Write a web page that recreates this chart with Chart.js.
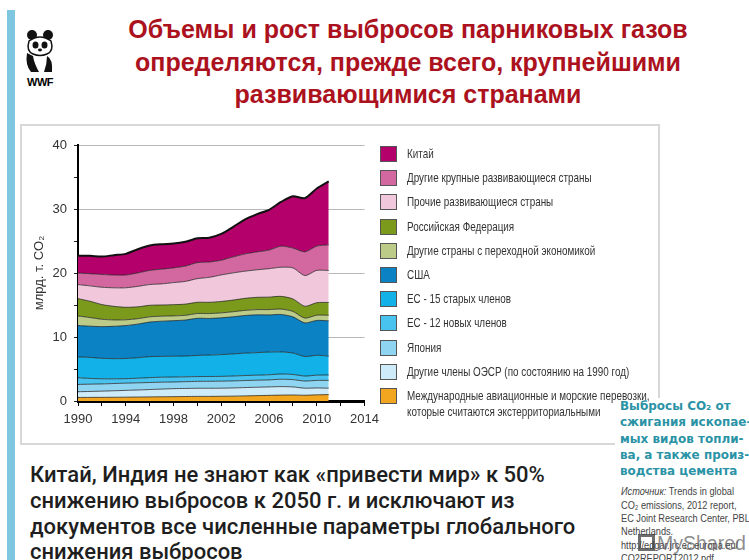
<!DOCTYPE html>
<html>
<head>
<meta charset="utf-8">
<script src="https://cdn.jsdelivr.net/npm/chart.js@4.4.0/dist/chart.umd.min.js"></script>
<style>
  body { margin:0; width:749px; height:560px; background:#fff; position:relative; overflow:hidden; font-family:"Liberation Sans", Arial, sans-serif; }
  .side-bar { position:absolute; left:7px; top:10px; width:8px; height:550px; background:#7fc7e1; }
  .logo { position:absolute; left:24px; top:29px; width:32px; text-align:center; }
  .logo b { display:block; font-size:11px; line-height:11px; letter-spacing:-0.5px; }
  .title { position:absolute; left:100px; width:616px; top:13px; text-align:center; color:#ac121e; font-weight:bold; font-size:25px; line-height:32.5px; }
  .frame { position:absolute; left:20px; top:124px; width:636px; height:317px; border:2px solid #d8d8d8; }
  #wrap { position:absolute; left:20px; top:124px; width:365px; height:320px; }
  #legend { position:absolute; left:0; top:0; z-index:3; }
  .item { position:absolute; left:380px; font-size:13px; color:#333; white-space:nowrap; line-height:16px; }
  .item i { position:absolute; left:0; top:0; width:15px; height:14px; border:1px solid #555; }
  .item span { position:absolute; left:27px; top:0; transform:scaleX(0.76); transform-origin:0 0; }
  .note { position:absolute; left:615px; top:398px; width:134px; height:162px; background:#fff; z-index:2; }
  .note h3 { margin:0 0 0 5px; font-family:"DejaVu Sans", Verdana, sans-serif; font-size:13px; line-height:16.3px; color:#2b93a6; font-weight:bold; white-space:nowrap; transform:scaleX(0.92); transform-origin:0 0; }
  .note p { margin:6px 0 0 6px; font-size:11.5px; line-height:13.3px; color:#444; white-space:nowrap; transform:scaleX(0.8); transform-origin:0 0; }
  .mark { position:absolute; left:638px; top:532px; font-size:19.5px; line-height:22px; color:rgba(90,90,90,0.7); white-space:nowrap; z-index:4; }
  .mark i { display:inline-block; width:11px; height:11px; border:3px solid rgba(60,60,60,0.75); vertical-align:-1px; margin-right:2px; }
  .bottom { position:absolute; left:30px; top:462px; font-family:Roboto, sans-serif; font-weight:500; font-size:22px; line-height:25.8px; color:#1e1e1e; white-space:nowrap; }
</style>
</head>
<body>
<div class="side-bar"></div>
<div class="logo">
  <svg width="30" height="44" viewBox="0 0 30 44">
    <ellipse cx="7" cy="6" rx="5" ry="5" fill="#111"/>
    <ellipse cx="23" cy="6" rx="5" ry="5" fill="#111"/>
    <path d="M4 12 Q15 4 26 12 Q29 22 22 25 Q15 28 8 25 Q1 22 4 12Z" fill="#fff" stroke="#111" stroke-width="1.5"/>
    <ellipse cx="10.5" cy="16" rx="3" ry="3.6" fill="#111"/>
    <ellipse cx="19.5" cy="16" rx="3" ry="3.6" fill="#111"/>
    <ellipse cx="15" cy="21" rx="2" ry="1.4" fill="#111"/>
    <path d="M2 24 Q0 36 6 43 L14 43 Q9 34 8 27Z" fill="#111"/>
    <path d="M22 27 Q28 30 27 43 L19 43 Q22 35 22 27Z" fill="#111"/>
  </svg>
  <b>WWF</b>
</div>
<div class="title">Объемы и рост выбросов парниковых газов<br>определяются, прежде всего, крупнейшими<br>развивающимися странами</div>
<div class="frame"></div>
<div id="wrap"><canvas id="emissions" width="365" height="320"></canvas></div>
<div id="legend"></div>
<div class="bottom">Китай, Индия не знают как «привести мир» к 50%<br>снижению выбросов к 2050 г. и исключают из<br>документов все численные параметры глобального<br>снижения выбросов</div>
<div class="note">
  <h3>Выбросы CO₂ от<br>сжигания ископае-<br>мых видов топли-<br>ва, а также произ-<br>водства цемента</h3>
  <p><i>Источник:</i> Trends in global<br>CO₂ emissions, 2012 report,<br>EC Joint Research Center, PBL<br>Netherlands.<br>http://edgar.jrc.ec.europa.eu/<br>CO2REPORT2012.pdf</p>
</div>
<div class="mark"><i></i>MyShared</div>

<script>
// годы и выбросы по группам стран, млрд. т CO2 (снизу вверх)
var years = [1990,1991,1992,1993,1994,1995,1996,1997,1998,1999,2000,2001,2002,2003,2004,2005,2006,2007,2008,2009,2010,2011];

var intlTransport   = [0.55,0.56,0.57,0.58,0.60,0.62,0.64,0.66,0.68,0.70,0.72,0.72,0.74,0.76,0.80,0.84,0.88,0.92,0.94,0.90,0.96,1.00];
var otherOecd       = [0.90,0.93,0.97,1.02,1.06,1.10,1.15,1.20,1.25,1.26,1.27,1.27,1.26,1.28,1.30,1.31,1.32,1.33,1.26,1.10,1.08,1.00];
var japan           = [1.14,1.14,1.13,1.13,1.13,1.12,1.10,1.08,1.04,1.06,1.08,1.09,1.10,1.10,1.10,1.10,1.10,1.15,1.14,1.12,1.18,1.22];
var eu12            = [1.05,0.90,0.80,0.74,0.70,0.72,0.76,0.78,0.78,0.76,0.75,0.75,0.75,0.77,0.78,0.79,0.80,0.82,0.81,0.78,0.82,0.85];
var eu15            = [3.25,3.28,3.20,3.15,3.15,3.20,3.28,3.25,3.25,3.25,3.30,3.35,3.40,3.45,3.50,3.52,3.55,3.45,3.35,3.05,3.10,2.95];
var usa             = [4.90,4.88,4.95,5.05,5.15,5.25,5.40,5.50,5.55,5.62,5.80,5.72,5.75,5.80,5.88,5.90,5.80,5.85,5.65,5.25,5.45,5.50];
var otherEit        = [1.50,1.35,1.15,1.00,0.90,0.85,0.82,0.78,0.75,0.74,0.75,0.76,0.77,0.79,0.80,0.82,0.83,0.85,0.85,0.75,0.82,0.88];
var russia          = [2.70,2.55,2.30,2.12,1.95,1.85,1.80,1.75,1.75,1.75,1.75,1.76,1.78,1.82,1.88,1.92,1.95,1.98,1.95,1.85,1.95,2.00];
var otherDeveloping = [2.20,2.40,2.70,2.90,3.05,3.20,3.25,3.30,3.45,3.55,3.70,3.90,4.15,4.25,4.25,4.30,4.45,4.55,4.85,4.80,5.05,5.00];
var largeDeveloping = [1.80,1.90,2.00,2.00,2.00,2.10,2.20,2.30,2.30,2.40,2.50,2.40,2.30,2.50,2.70,2.80,2.90,3.30,3.10,3.70,3.80,4.00];
var china           = [2.70,2.80,2.80,3.10,3.30,3.70,3.90,3.90,3.80,3.80,3.80,3.80,4.10,4.70,5.40,5.90,6.30,6.90,8.10,8.40,9.00,9.90];

var seriesData = [intlTransport, otherOecd, japan, eu12, eu15, usa, otherEit, russia, otherDeveloping, largeDeveloping, china];
var seriesNames = [
  ["Международные авиационные и морские перевозки,", "которые считаются экстерриториальными"],
  "Другие члены ОЭСР (по состоянию на 1990 год)",
  "Япония",
  "ЕС - 12 новых членов",
  "ЕС - 15 старых членов",
  "США",
  "Другие страны с переходной экономикой",
  "Российская Федерация",
  "Прочие развивающиеся страны",
  "Другие крупные развивающиеся страны",
  "Китай"
];
var seriesColors = ["#f2a51e", "#cdebf8", "#8fd4f1", "#48c2ee", "#12b2e8", "#0b82c4", "#bccb88", "#7b9a1c", "#f1c7dc", "#d2689f", "#b4006b"];

var datasets = seriesData.map((vals, i) => ({
  label: Array.isArray(seriesNames[i]) ? seriesNames[i].join(" ") : seriesNames[i],
  data: vals.map((v, j) => ({ x: years[j], y: v })),
  backgroundColor: seriesColors[i],
  borderColor: i == seriesData.length - 1 ? "#111" : "rgba(35,35,35,0.75)",
  borderWidth: i == seriesData.length - 1 ? 2 : 1,
  fill: i == 0 ? "origin" : "-1",
  pointRadius: 0,
  tension: 0.25
}));

var tickFont = { family: '"Liberation Sans", sans-serif', size: 13 };

new Chart("emissions", {
  type: "line",
  data: { datasets: datasets },
  options: {
    responsive: false,
    animation: false,
    layout: { padding: { left: 0, right: 16, top: 21, bottom: 13 } },
    plugins: { legend: { display: false }, tooltip: { enabled: false } },
    scales: {
      x: {
        type: "linear",
        min: 1990,
        max: 2014,
        afterFit: s => { s.height = 30; },
        border: { color: "#000", width: 3 },
        grid: { drawOnChartArea: false, tickColor: "#000", tickLength: 5 },
        ticks: {
          stepSize: 2,
          autoSkip: false,
          maxRotation: 0,
          padding: 6,
          color: "#333",
          font: tickFont,
          callback: v => (v - 1990) % 4 == 0 ? String(v) : ""
        }
      },
      y: {
        stacked: true,
        min: 0,
        max: 40,
        afterFit: s => { s.width = 58; },
        border: { color: "#000", width: 2 },
        grid: {
          color: ctx => ctx.tick && ctx.tick.value % 10 == 0 ? "#b8b8b8" : "rgba(0,0,0,0)",
          tickColor: "#222",
          tickLength: 4
        },
        ticks: {
          stepSize: 5,
          padding: 7,
          color: "#333",
          font: tickFont,
          callback: v => v % 10 == 0 ? v : ""
        },
        title: {
          display: true,
          text: "млрд. т. CO₂",
          color: "#333",
          padding: { top: 12, bottom: 0 },
          font: { family: '"Liberation Sans", sans-serif', size: 13 }
        }
      }
    }
  }
});

// легенда справа: сверху Китай, снизу перевозки
var legend = document.getElementById("legend");
for (var k = seriesNames.length - 1; k >= 0; k--) {
  var row = seriesNames.length - 1 - k;
  var item = document.createElement("div");
  item.className = "item";
  item.style.top = (146 + row * 24.2) + "px";
  var box = document.createElement("i");
  box.style.background = seriesColors[k];
  var txt = document.createElement("span");
  txt.innerHTML = Array.isArray(seriesNames[k]) ? seriesNames[k].join("<br>") : seriesNames[k];
  item.appendChild(box);
  item.appendChild(txt);
  legend.appendChild(item);
}
</script>
</body>
</html>
